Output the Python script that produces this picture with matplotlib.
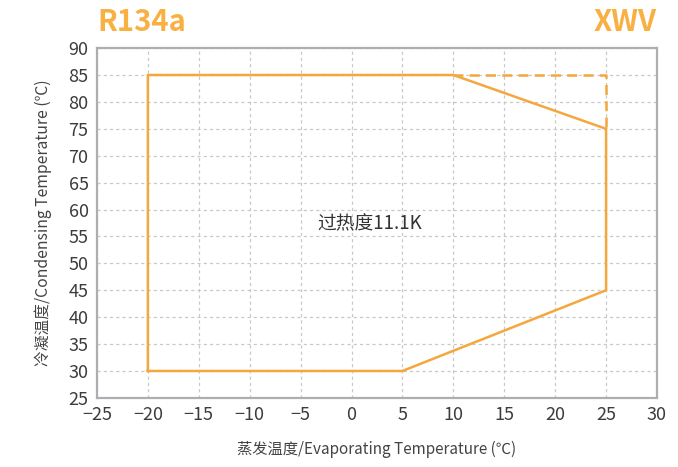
import matplotlib.pyplot as plt

plt.rcParams['font.family'] = ['Noto Sans CJK SC', 'DejaVu Sans']

# envelope outline (evaporating, condensing)
evapTemp = [-20, -20, 10, 25, 25, 5, -20]
condTemp = [30, 85, 85, 75, 45, 30, 30]

# dashed extension
dashEvap = [10, 25, 25]
dashCond = [85, 85, 75]

xTicks = list(range(-25, 31, 5))
yTicks = list(range(25, 91, 5))

lineColor = '#F4A73C'
titleColor = '#F9B043'
grey = '#AEAEB2'

fig = plt.figure(figsize=(6.78, 4.67), dpi=100)
ax = fig.add_axes([0.143, 0.148, 0.826, 0.749])

ax.plot(evapTemp, condTemp, color=lineColor, lw=1.8, solid_joinstyle='miter')
ax.plot(dashEvap, dashCond, color=lineColor, lw=1.8, ls=(0, (4, 2.5)))

ax.set_xlim(-25, 30)
ax.set_ylim(25, 90)
ax.set_xticks(xTicks)
ax.set_yticks(yTicks)
ax.set_xticklabels(['\u2212' + str(-t) if t < 0 else str(t) for t in xTicks])
ax.grid(True, ls=(0, (2.5, 2.5)), color='#C8C8C8', lw=0.9)
ax.tick_params(length=0, labelsize=13, colors='#3C3C3C', pad=6)
for s in ax.spines.values():
    s.set_color(grey)
    s.set_linewidth(1.6)

ax.text(1.8, 57.3, '过热度11.1K', ha='center', va='center', fontsize=13.5, color='#333333')

ax.set_xlabel('蒸发温度/Evaporating Temperature (℃)', fontsize=11, color='#444444', labelpad=12)
ax.set_ylabel('冷凝温度/Condensing Temperature (℃)', fontsize=11.3, color='#444444', labelpad=12)

fig.text(0.143, 0.952, 'R134a', fontsize=21, fontweight='bold', color=titleColor, ha='left', va='center')
fig.text(0.969, 0.952, 'XWV', fontsize=21, fontweight='bold', color=titleColor, ha='right', va='center')

plt.savefig('out.png', dpi=100)
